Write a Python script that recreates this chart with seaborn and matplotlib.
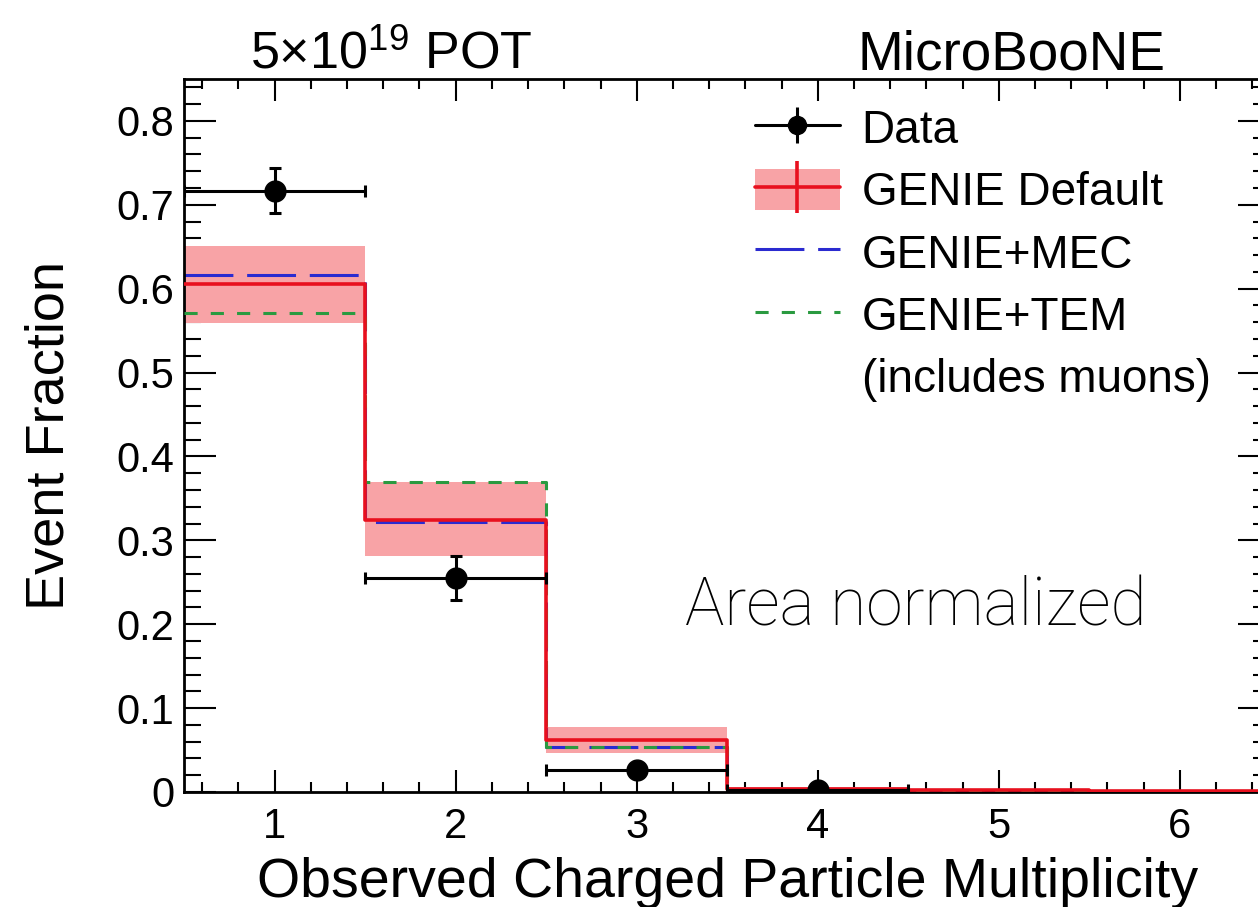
import numpy as np
import matplotlib
matplotlib.use("Agg")
import matplotlib.pyplot as plt
from matplotlib.lines import Line2D
from matplotlib.patches import Patch
from matplotlib.ticker import MultipleLocator
import seaborn as sns

# bins of observed charged particle multiplicity
bin_edges = [0.5, 1.5, 2.5, 3.5, 4.5, 5.5, 6.5]
multiplicity = [1, 2, 3, 4, 5, 6]

# data points (only first four bins filled)
data_x = [1, 2, 3, 4]
data_frac = [0.717, 0.255, 0.026, 0.002]
data_err = [0.027, 0.026, 0.004, 0.001]

# MC predictions, area normalized
genie_default = [0.606, 0.324, 0.062, 0.004, 0.002, 0.001]
band_low = [0.559, 0.281, 0.046, 0.002, 0.001, 0.0005]
band_high = [0.651, 0.369, 0.077, 0.006, 0.003, 0.0015]
genie_mec = [0.616, 0.322, 0.054, 0.004, 0.002, 0.001]
genie_tem = [0.571, 0.369, 0.054, 0.003, 0.002, 0.001]

sns.set_theme(style="ticks")
plt.rcParams['font.family'] = ['Liberation Sans', 'DejaVu Sans']
plt.rcParams['mathtext.fontset'] = 'custom'
plt.rcParams['mathtext.rm'] = 'Liberation Sans'
plt.rcParams['mathtext.default'] = 'regular'
for k in ['text.color', 'axes.labelcolor', 'xtick.color', 'ytick.color', 'axes.edgecolor']:
    plt.rcParams[k] = 'black'

red = '#e8101e'
pink = '#f8a3a6'
blue = '#2b2bd0'
green = '#2a9a40'

fig = plt.figure(figsize=(12.58, 9.07), dpi=100)
ax = fig.add_axes([0.1463, 0.1268, 0.8636, 0.7861])

# uncertainty band on GENIE default
ax.stairs(band_high, bin_edges, baseline=band_low, fill=True, color=pink, lw=0, zorder=1)

# step histograms through seaborn
sns.histplot(x=multiplicity, weights=genie_mec, bins=bin_edges, element='step', fill=False,
             color=blue, lw=2.2, ax=ax, zorder=2).lines[-1].set_dashes((16, 4.5))
sns.histplot(x=multiplicity, weights=genie_tem, bins=bin_edges, element='step', fill=False,
             color=green, lw=2.2, ax=ax, zorder=3).lines[-1].set_dashes((4.3, 4.3))
sns.histplot(x=multiplicity, weights=genie_default, bins=bin_edges, element='step', fill=False,
             color=red, lw=2.6, ax=ax, zorder=4)

# data with x and y errors
xerr = 0.5
ax.errorbar(data_x, data_frac, xerr=xerr, yerr=data_err, fmt='o', color='black',
            ms=15, lw=2.2, capsize=4, capthick=2.2, zorder=5)

ax.set_xlim(0.5, 6.5)
ax.set_ylim(0, 0.85)
ax.xaxis.set_major_locator(MultipleLocator(1))
ax.xaxis.set_minor_locator(MultipleLocator(0.2))
ax.yaxis.set_minor_locator(MultipleLocator(0.02))
ax.set_yticks([0, 0.1, 0.2, 0.3, 0.4, 0.5, 0.6, 0.7, 0.8])
ax.set_yticklabels(['0', '0.1', '0.2', '0.3', '0.4', '0.5', '0.6', '0.7', '0.8'])

for s in ax.spines.values():
    s.set_linewidth(2)
ax.tick_params(axis='both', which='both', direction='in', top=True, right=True,
               width=1.5, labelsize=30)
ax.tick_params(axis='y', which='major', length=23, pad=7)
ax.tick_params(axis='y', which='minor', length=12)
ax.tick_params(axis='x', which='major', length=16, pad=11)
ax.tick_params(axis='x', which='minor', length=7)

ax.set_xlabel('Observed Charged Particle Multiplicity', fontsize=40, labelpad=7)
ax.set_ylabel('Event Fraction', fontsize=39, labelpad=30)

fig.text(250 / 1258, 1 - 68 / 907, r'5$\times$10$^{19}$ POT', fontsize=37.5, ha='left', va='baseline')
fig.text(858 / 1258, 1 - 70 / 907, 'MicroBooNE', fontsize=39.5, ha='left', va='baseline')
fig.text(685 / 1258, 1 - 625 / 907, 'Area normalized', fontsize=47.5, ha='left', va='baseline',
         family=['Roboto', 'DejaVu Sans'], fontweight='light')

handles = [
    (Line2D([], [], color='black', lw=2.2, marker='|', ms=26, mew=2.2),
     Line2D([], [], color='black', ls='none', marker='o', ms=13)),
    (Patch(facecolor=pink, edgecolor='none'),
     Line2D([], [], color=red, lw=2.6, marker='|', ms=38, mew=2.6)),
    Line2D([], [], color=blue, lw=2.2, dashes=(16, 4.5)),
    Line2D([], [], color=green, lw=2.2, dashes=(4.3, 4.3)),
    Line2D([], [], color='none'),
]
labels = ['Data', 'GENIE Default', 'GENIE+MEC', 'GENIE+TEM', '(includes muons)']
ax.legend(handles, labels, loc='upper left', bbox_to_anchor=(0.5255, 0.961), frameon=False,
          fontsize=33, handlelength=1.85, handletextpad=0.48, labelspacing=0.35,
          borderpad=0, borderaxespad=0, handleheight=1.0)

fig.savefig('out.png', dpi=100)
